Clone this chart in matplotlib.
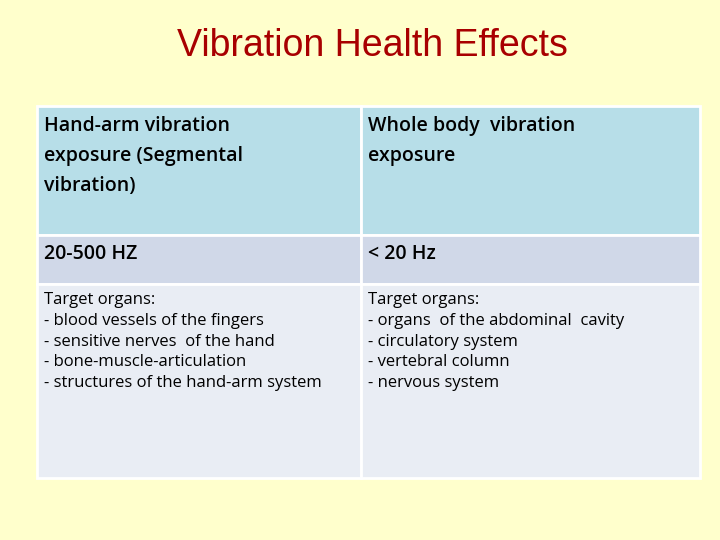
import matplotlib.pyplot as plt
from matplotlib.patches import Rectangle

title = "Vibration Health Effects"
header = ["Hand-arm vibration\nexposure (Segmental\nvibration)", "Whole body  vibration\nexposure"]
freq = ["20-500 HZ", "< 20 Hz"]
organs = [
    "Target organs:\n- blood vessels of the fingers\n- sensitive nerves  of the hand\n- bone-muscle-articulation\n- structures of the hand-arm system",
    "Target organs:\n- organs  of the abdominal  cavity\n- circulatory system\n- vertebral column\n- nervous system",
]

col_x = [37, 361, 700]
row_y = [106, 235, 284, 478]
row_colors = ["#B7DEE8", "#D0D8E8", "#E9EDF4"]

fig = plt.figure(figsize=(7.2, 5.4), dpi=100)
fig.patch.set_facecolor("#FFFFCC")
ax = fig.add_axes([0, 0, 1, 1])
ax.set_xlim(0, 720)
ax.set_ylim(540, 0)
ax.axis("off")

ax.text(372, 46, title, color="#A80000", fontsize=27, family="Liberation Sans",
        ha="center", va="center")

# (texts, font size, weight, top offset, line spacing)
rows = [(header, 14, "semibold", 10, 1.65), (freq, 14, "semibold", 9, 1.3),
        (organs, 12, "normal", 8, 1.4)]
for r, (texts, size, weight, off, ls) in enumerate(rows):
    for c in range(2):
        x0, x1 = col_x[c], col_x[c + 1]
        y0, y1 = row_y[r], row_y[r + 1]
        ax.add_patch(Rectangle((x0, y0), x1 - x0, y1 - y0, facecolor=row_colors[r],
                               edgecolor="white", linewidth=2))
        ax.text(x0 + 7, y0 + off, texts[c], fontsize=size, fontweight=weight,
                family="Open Sans", va="top", ha="left", linespacing=ls)

fig.savefig("out.png", dpi=100, facecolor=fig.get_facecolor())
